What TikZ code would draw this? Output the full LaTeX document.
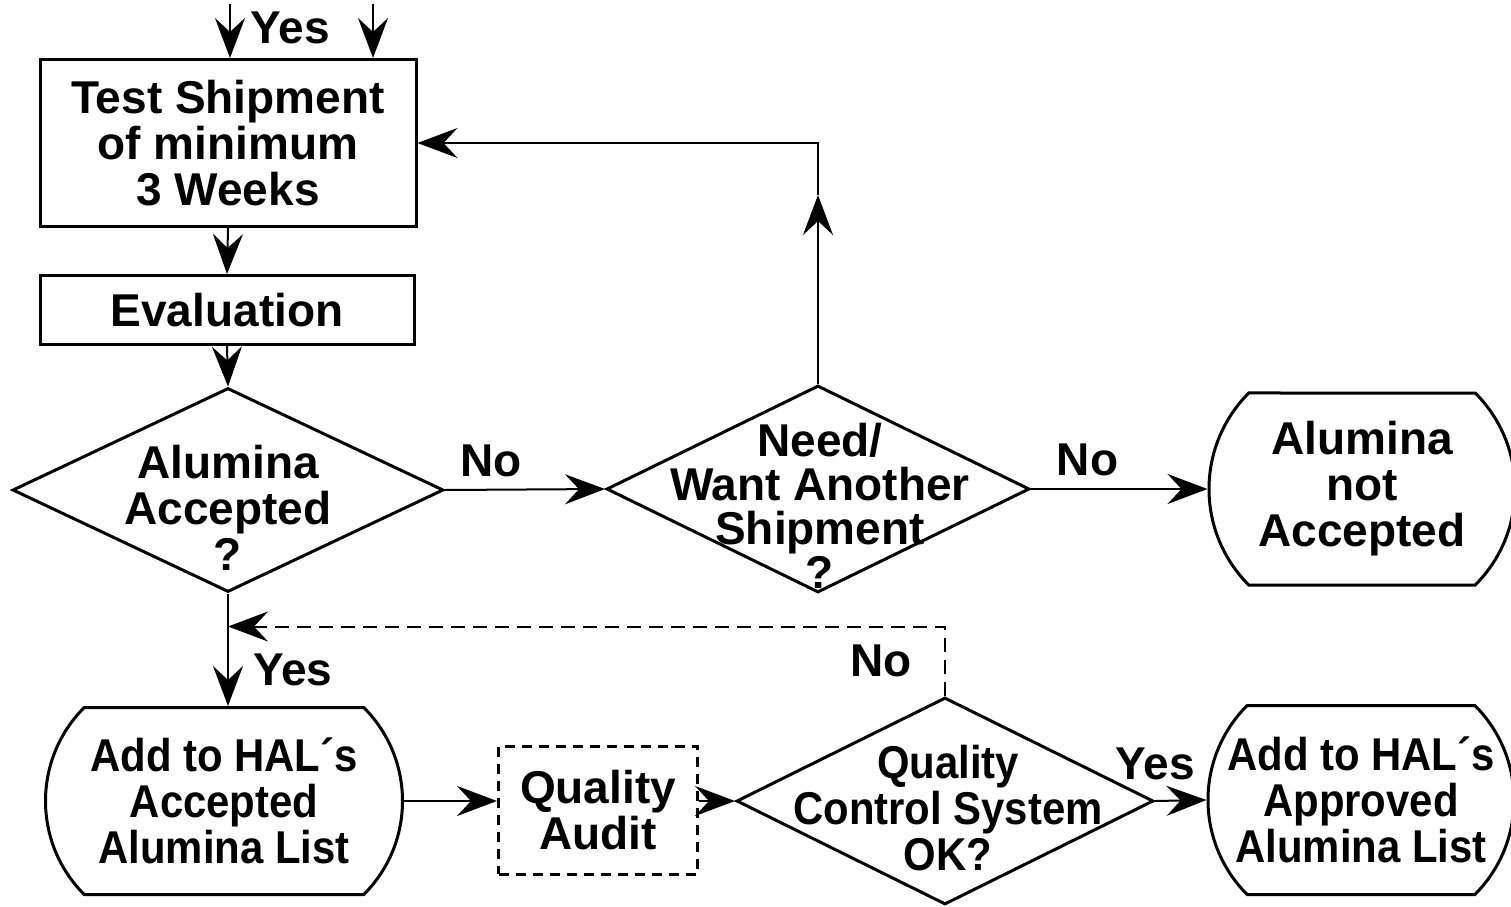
\documentclass[tikz,border=0pt]{standalone}
\usepackage{fontspec}
\setmainfont{Liberation Sans}
\newfontfamily\narrowsf[FakeStretch=0.91]{Liberation Sans}
\usetikzlibrary{shapes.geometric,shapes.misc,arrows.meta}

\begin{document}
\begin{tikzpicture}[x=0.5pt,y=-0.5pt,
  box/.style={draw,line width=1.5pt,inner sep=0pt},
  dia/.style={draw,diamond,line width=1.5pt,inner sep=0pt},
  term/.style={draw,rounded rectangle,rounded rectangle arc length=90,
    line width=1.5pt,inner sep=0pt},
  txt/.style={font=\fontsize{23}{23}\selectfont\bfseries,align=center,inner sep=0pt},
  ntxt/.style={txt,font=\narrowsf\fontsize{23}{23}\selectfont\bfseries},
  arr/.style={-{Stealth[length=20pt,width=15pt,inset=7pt]},line width=1pt}]

\useasboundingbox (0,0) rectangle (1511,906); %% page size

%% entry points from above
\coordinate (in1) at (230,4);
\coordinate (in2) at (373,4);

\node[box,txt,minimum width=188pt,minimum height=83.5pt] (test) at (228,143)
  {Test Shipment\\of minimum\\3 Weeks};
\node[box,txt,minimum width=187pt,minimum height=34.5pt] (eval) at (227,310)
  {Evaluation};

\node[dia,minimum width=215.5pt,minimum height=102pt] (acc) at (228,490) {};
\node[txt] (acc-t) at (228,508) {Alumina\\Accepted\\?};

\node[dia,minimum width=211.5pt,minimum height=103.5pt] (need) at (818,489) {};
\node[txt,font=\fontsize{23}{22}\selectfont\bfseries] (need-t) at (820,506)
  {Need/\\Want Another\\Shipment\\?};

\node[term,txt,minimum width=153pt,minimum height=96pt] (notacc) at (1362,489)
  {Alumina\\not\\Accepted};

\node[term,ntxt,minimum width=178.5pt,minimum height=93.5pt] (add) at (224,801)
  {Add to HAL´s\\Accepted\\Alumina List};
\node[box,txt,dash pattern=on 5pt off 3.5pt,minimum width=99.5pt,minimum height=64pt]
  (audit) at (598,810) {Quality\\Audit};

\node[dia,minimum width=208.5pt,minimum height=103.5pt] (qc) at (945,801) {};
\node[ntxt] (qc-t) at (948,808) {Quality\\Control System\\OK?};

\node[term,ntxt,minimum width=153pt,minimum height=94.5pt] (appr) at (1361,800)
  {Add to HAL´s\\Approved\\Alumina List};

%% connectors
\draw[arr] (in1) -- (in1 |- test.north);
\draw[arr] (in2) -- (in2 |- test.north);
\node[txt] (yes-in) at (290,28) {Yes};

\draw[arr] (test.south) -- (eval.north);
\draw[arr] (eval.south) -- (acc.north);
\draw[arr] (acc.east) -- node[txt,pos=0.29,above=6pt]{No} (need.west);

\coordinate (up) at (818,195);
\draw[arr] (need.north) -- (up);
\draw[arr] (up) |- (test.east);

\draw[arr] (need.east) -- node[txt,pos=0.32,above=6pt]{No} (notacc.west);
\draw[arr] (acc.south) -- node[txt,pos=0.68,right=12pt]{Yes} (acc.south |- add.north);

\path (acc.south) ++(0,33) coordinate (merge);
\draw[arr,dash pattern=on 7pt off 4pt] (qc.north) |-
  node[txt,pos=0.25,left=16pt]{No} (merge);

\draw[arr] (add.east) -- (add.east -| audit.west);
\draw[arr] (qc.west -| audit.east) -- (qc.west);
\draw[arr] (qc.east) -- node[txt,pos=0,above=10pt]{Yes} (appr.west);

\end{tikzpicture}
\end{document}
